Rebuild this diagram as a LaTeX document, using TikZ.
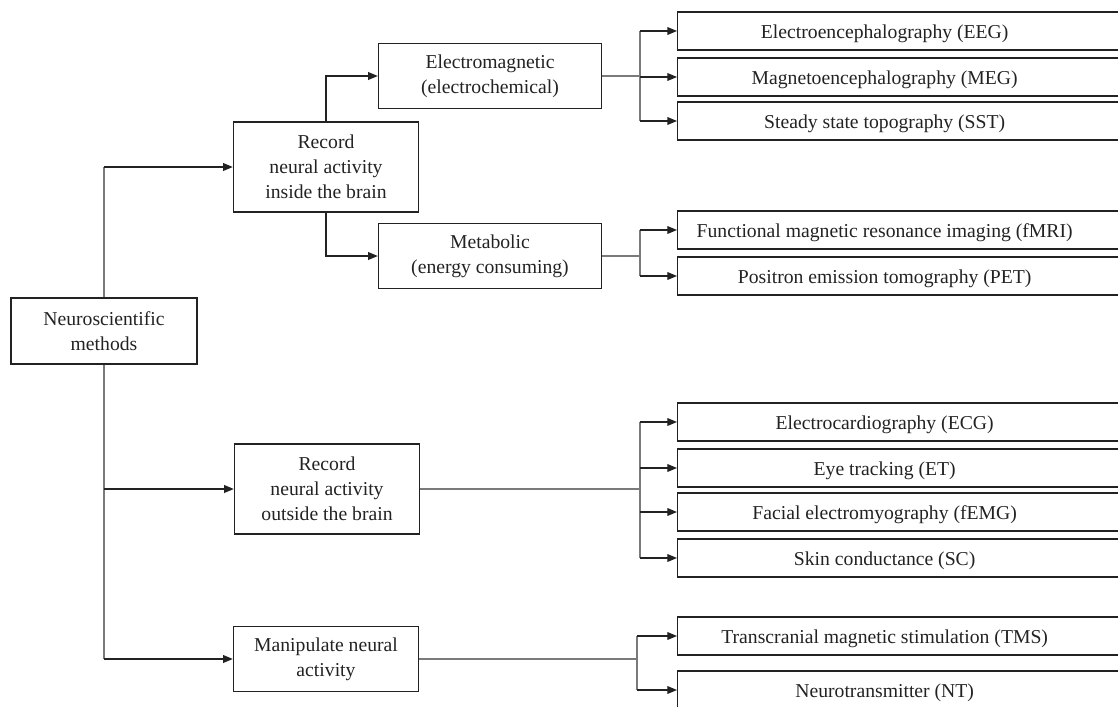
\documentclass[tikz,border=0pt]{standalone}
\usepackage{fontspec}
\setmainfont{Liberation Serif}
\usetikzlibrary{arrows.meta}
\definecolor{ink}{HTML}{222222}
\definecolor{wiregray}{HTML}{7a7a7a}
\tikzset{
  box/.style={draw=ink, line width=0.8pt, text=ink, align=center, inner sep=0pt, font=\fontsize{11.2}{14.2}\selectfont},
  wide/.style={box, anchor=west, minimum width=9.06cm, minimum height=0.76cm,
    label={[text=ink, font=\fontsize{11.2}{14.2}\selectfont, xshift=-0.39cm, yshift=-1.5pt]center:#1}},
  link/.style={draw=wiregray, line width=0.6pt},
  arr/.style={draw=ink, line width=0.7pt, -{Triangle[length=5.5pt,width=4.4pt]}}
}
\begin{document}
\begin{tikzpicture}[x=0.02cm, y=-0.02cm]
  \useasboundingbox (0,0) rectangle (1118,706);
  \clip (0,0) rectangle (1118,706);
  \node[box, minimum width=3.72cm, minimum height=1.32cm] (a) at (104,331) {Neuroscientific\\methods};
  \node[box, minimum width=3.7cm, minimum height=1.8cm] (b) at (326,167) {Record\\neural activity\\inside the brain};
  \node[box, minimum width=4.46cm, minimum height=1.3cm] (c) at (490,76) {Electromagnetic\\(electrochemical)};
  \node[box, minimum width=4.46cm, minimum height=1.3cm] (d) at (490,256) {Metabolic\\(energy consuming)};
  \node[wide={Electroencephalography (EEG)}] (e) at (677,31) {};
  \node[wide={Magnetoencephalography (MEG)}] (f) at (677,77) {};
  \node[wide={Steady state topography (SST)}] (g) at (677,121) {};
  \node[wide={Functional magnetic resonance imaging (fMRI)}] (h) at (677,230) {};
  \node[wide={Positron emission tomography (PET)}] (i) at (677,276) {};
  \node[box, minimum width=3.7cm, minimum height=1.8cm] (j) at (327,489) {Record\\neural activity\\outside the brain};
  \node[wide={Electrocardiography (ECG)}] (k) at (677,422) {};
  \node[wide={Eye tracking (ET)}] (l) at (677,468) {};
  \node[wide={Facial electromyography (fEMG)}] (m) at (677,512) {};
  \node[wide={Skin conductance (SC)}] (n) at (677,558) {};
  \node[box, minimum width=3.7cm, minimum height=1.3cm] (o) at (326,659) {Manipulate neural\\activity};
  \node[wide={Transcranial magnetic stimulation (TMS)}] (p) at (677,636) {};
  \node[wide={Neurotransmitter (NT)}] (q) at (677,690) {};

  \coordinate (c1) at (640,76);
  \coordinate (d1) at (640,256);
  \coordinate (j1) at (640,489);
  \coordinate (o1) at (637,659);

  \draw[link] (a.north) -- (a.north |- b.west);
  \draw[arr] (a.north |- b.west) -- (b.west);
  \draw[link] (a.south) -- (a.south |- o.west);
  \draw[arr] (a.south |- j.west) -- (j.west);
  \draw[arr] (a.south |- o.west) -- (o.west);
  \draw[arr] (b.north) |- (c.west);
  \draw[arr] (b.south) |- (d.west);

  \draw[link] (c.east) -- (c1);
  \draw[link] (c1 |- e.west) -- (c1 |- g.west);
  \draw[arr] (c1 |- e.west) -- (e.west);
  \draw[arr] (c1 |- f.west) -- (f.west);
  \draw[arr] (c1 |- g.west) -- (g.west);

  \draw[link] (d.east) -- (d1);
  \draw[link] (d1 |- h.west) -- (d1 |- i.west);
  \draw[arr] (d1 |- h.west) -- (h.west);
  \draw[arr] (d1 |- i.west) -- (i.west);

  \draw[link] (j.east) -- (j1);
  \draw[link] (j1 |- k.west) -- (j1 |- n.west);
  \draw[arr] (j1 |- k.west) -- (k.west);
  \draw[arr] (j1 |- l.west) -- (l.west);
  \draw[arr] (j1 |- m.west) -- (m.west);
  \draw[arr] (j1 |- n.west) -- (n.west);

  \draw[link] (o.east) -- (o1);
  \draw[link] (o1 |- p.west) -- (o1 |- q.west);
  \draw[arr] (o1 |- p.west) -- (p.west);
  \draw[arr] (o1 |- q.west) -- (q.west);
\end{tikzpicture}
\end{document}
